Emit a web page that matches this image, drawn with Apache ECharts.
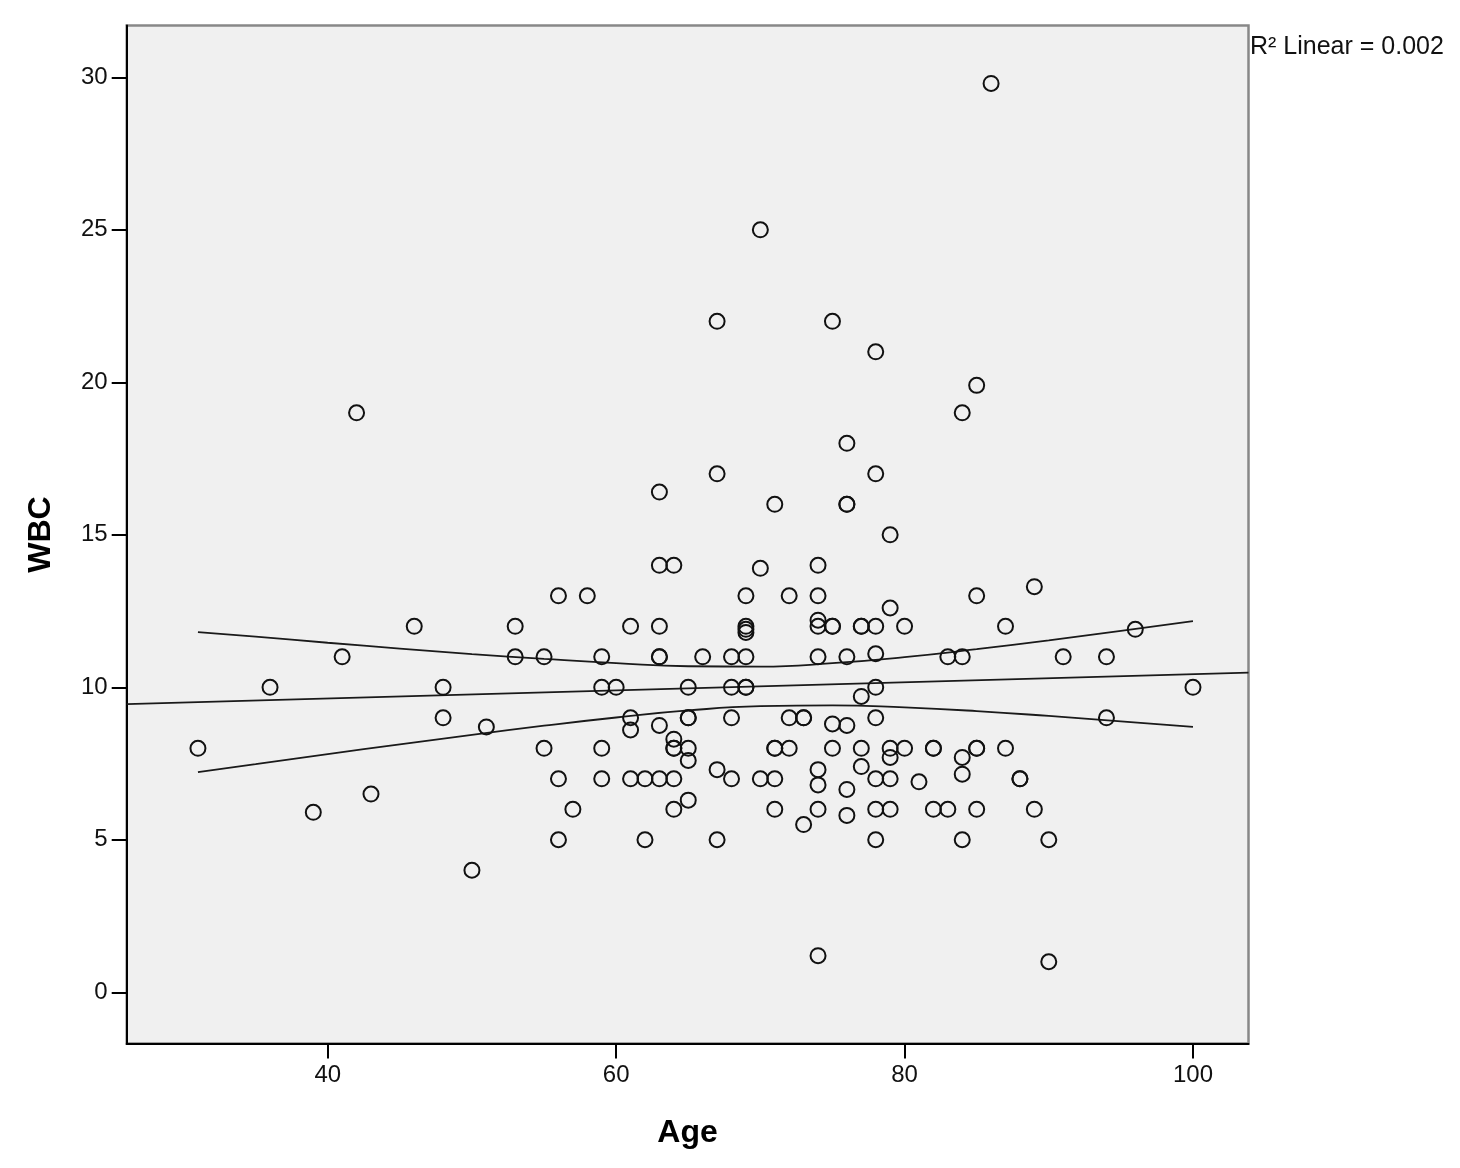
<!DOCTYPE html>
<html>
<head>
<meta charset="utf-8">
<script src="https://cdn.jsdelivr.net/npm/echarts@6/dist/echarts.min.js"></script>
<style>
html,body{margin:0;padding:0;background:#fff;}
#chart{width:1460px;height:1168px;}
</style>
</head>
<body>
<div id="chart"></div>
<script>
// Scatter data: Age vs WBC
const ages = [31,36,39,41,42,43,46,48,48,50,51,53,53,55,55,56,56,56,57,58,
  59,59,59,59,60,61,61,61,61,62,62,63,63,63,63,63,63,63,64,64,
  64,64,64,64,65,65,65,65,65,65,66,67,67,67,67,68,68,68,68,69,
  69,69,69,69,69,69,70,70,70,71,71,71,71,71,72,72,72,73,73,73,
  74,74,74,74,74,74,74,74,74,75,75,75,75,75,76,76,76,76,76,76,
  76,77,77,77,77,77,78,78,78,78,78,78,78,78,78,79,79,79,79,79,
  79,80,80,81,82,82,82,83,83,84,84,84,84,84,85,85,85,85,85,86,
  87,87,88,88,89,89,90,90,91,94,94,96,100];
const wbc = [8,10,5.9,11,19,6.5,12,10,9,4,8.7,12,11,11,8,13,7,5,6,13,
  11,10,8,7,10,12,9,8.6,7,7,5,16.4,14,12,11,11,8.75,7,14,8.3,
  8,8,7,6,10,9,9,8,7.6,6.3,11,22,17,7.3,5,11,10,9,7,13,
  12,11.9,11.8,11,10,10,25,13.9,7,16,8,8,7,6,13,9,8,9,9,5.5,
  14,13,12.2,12,11,7.3,6.8,6,1.2,22,12,12,8.8,8,18,16,16,11,8.75,6.65,
  5.8,12,12,9.7,8,7.4,21,17,12,11.1,10,9,7,6,5,15,12.6,8,7.7,7,
  6,12,8,6.9,8,8,6,11,6,19,11,7.7,7.15,5,19.9,13,8,8,6,29.8,
  12,8,7,7,13.3,6,5,1,11,11,9,11.9,10];

// Linear fit line (spans the plot)
const fitAges = [26.06, 103.85];
const fitWbc = [9.45, 10.48];

// 95% mean confidence band
const ciAges  = [31, 35, 40, 45, 50, 55, 60, 65, 70, 75, 80, 85, 90, 95, 100];
const ciUpper = [11.81, 11.66, 11.46, 11.27, 11.09, 10.93, 10.79, 10.69, 10.68, 10.79, 10.99, 11.25, 11.54, 11.85, 12.17];
const ciLower = [7.22, 7.48, 7.81, 8.13, 8.44, 8.74, 9.01, 9.24, 9.38, 9.41, 9.34, 9.22, 9.06, 8.88, 8.70];

// Axis ticks
const xTicks = [40, 60, 80, 100];
const yTicks = [0, 5, 10, 15, 20, 25, 30];

const pairs = (xs, ys) => xs.map((x, i) => [x, ys[i]]);

const chart = echarts.init(document.getElementById('chart'), null, {renderer: 'canvas'});
const FONT = '"Liberation Sans", Arial, sans-serif';
const lineStyle = {color: '#1a1a1a', width: 1.8};

chart.setOption({
  animation: false,
  backgroundColor: '#ffffff',
  grid: {
    left: 126.7, right: 211.5, top: 25.5, bottom: 124.5,
    show: true, backgroundColor: '#f0f0f0', borderColor: '#888888', borderWidth: 2.5
  },
  xAxis: {
    type: 'value', min: 26.06, max: 103.85,
    name: 'Age', nameLocation: 'middle', nameGap: 74,
    nameTextStyle: {fontFamily: FONT, fontSize: 32, fontWeight: 'bold', color: '#000'},
    axisLine: {show: true, onZero: false, lineStyle: {color: '#000', width: 2}},
    axisTick: {show: true, length: 15, inside: false, customValues: xTicks, lineStyle: {color: '#000', width: 2}},
    axisLabel: {customValues: xTicks, margin: 20, fontFamily: FONT, fontSize: 24, color: '#111'},
    splitLine: {show: false}
  },
  yAxis: {
    type: 'value', min: -1.68, max: 31.70,
    name: 'WBC', nameLocation: 'middle', nameGap: 70, nameRotate: 90,
    nameTextStyle: {fontFamily: FONT, fontSize: 32, fontWeight: 'bold', color: '#000'},
    axisLine: {show: true, onZero: false, lineStyle: {color: '#000', width: 2}},
    axisTick: {show: true, length: 15, inside: false, customValues: yTicks, lineStyle: {color: '#000', width: 2}},
    axisLabel: {customValues: yTicks, margin: 19, fontFamily: FONT, fontSize: 24, color: '#111'},
    splitLine: {show: false}
  },
  graphic: [{
    type: 'text', left: 1250, top: 35, z: 100,
    style: {text: 'R² Linear = 0.002', fontFamily: FONT, fontSize: 25, fill: '#111'}
  }],
  series: [
    {
      type: 'line', data: pairs(fitAges, fitWbc), showSymbol: false, symbol: 'none',
      lineStyle: lineStyle, silent: true, z: 3
    },
    {
      type: 'line', data: pairs(ciAges, ciUpper), showSymbol: false, symbol: 'none', smooth: true,
      lineStyle: lineStyle, silent: true, z: 3
    },
    {
      type: 'line', data: pairs(ciAges, ciLower), showSymbol: false, symbol: 'none', smooth: true,
      lineStyle: lineStyle, silent: true, z: 3
    },
    {
      type: 'scatter', data: pairs(ages, wbc), symbol: 'circle', symbolSize: 15,
      itemStyle: {color: 'rgba(0,0,0,0)', borderColor: '#111', borderWidth: 2, opacity: 1},
      z: 4
    }
  ]
});
</script>
</body>
</html>
